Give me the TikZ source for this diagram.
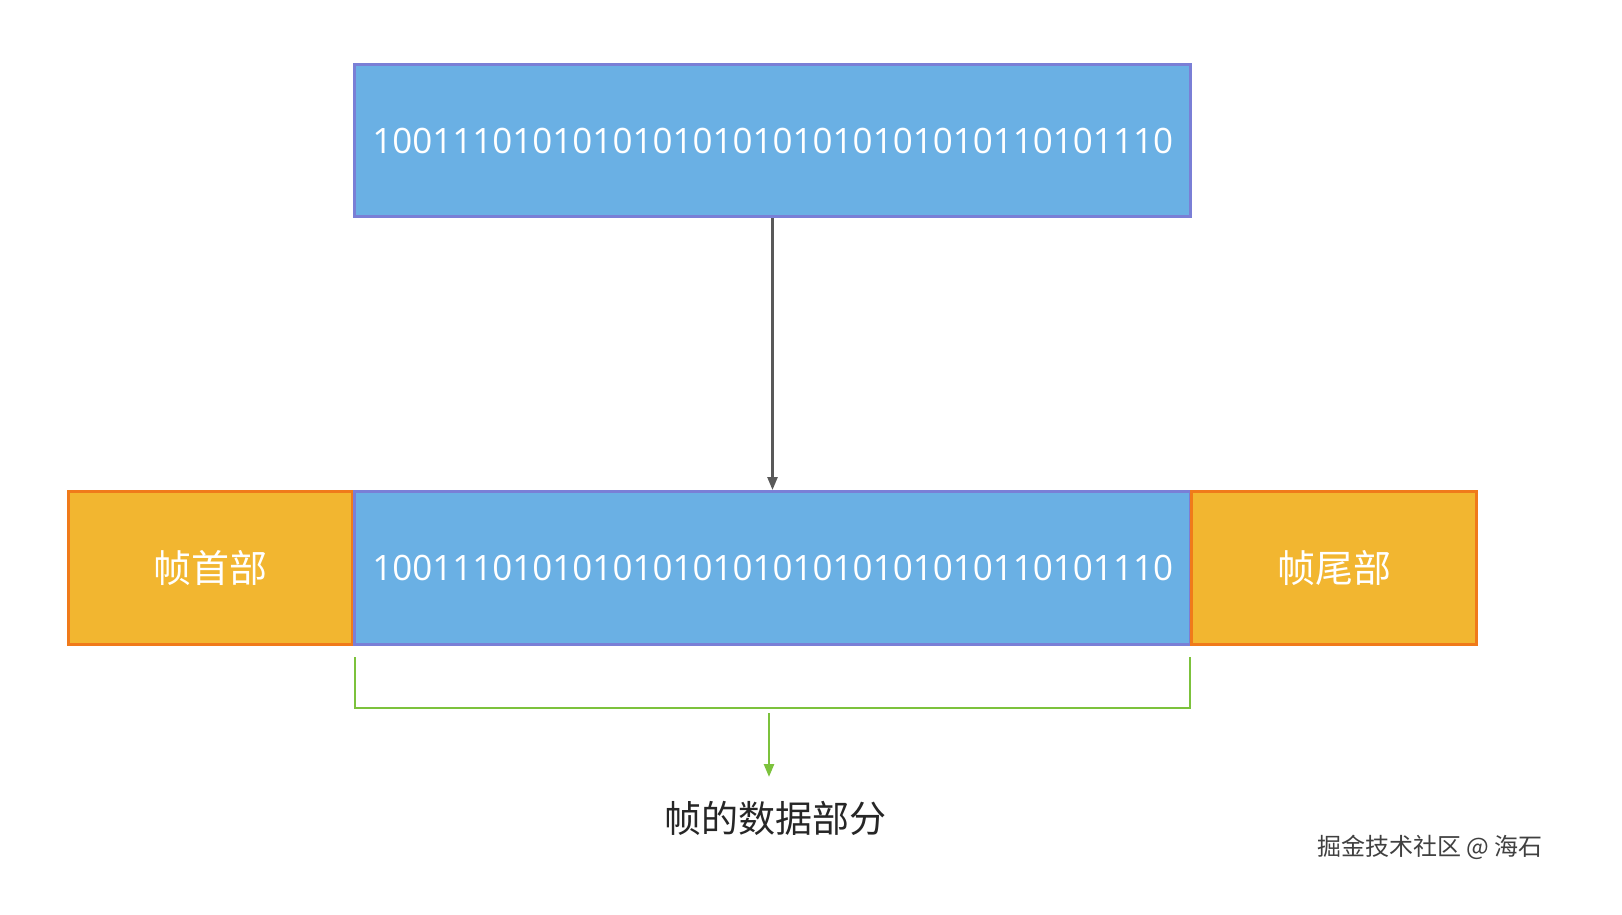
\documentclass[tikz,border=0pt]{standalone}
\usepackage{fontspec}
\setmainfont{Open Sans}
\newfontfamily\cjk{Noto Sans CJK SC}
\usetikzlibrary{arrows.meta}
\definecolor{bfill}{HTML}{6AB0E4}
\definecolor{bdraw}{HTML}{7A7FD6}
\definecolor{ofill}{HTML}{F2B630}
\definecolor{odraw}{HTML}{F07A1A}
\definecolor{grn}{HTML}{7CC23C}
\begin{document}
\begin{tikzpicture}[x=1pt,y=-1pt,
  bluebox/.style={draw=bdraw,fill=bfill,line width=3pt,text=white,font=\fontsize{35}{40}\selectfont,anchor=north west,inner sep=0pt},
  orbox/.style={draw=odraw,fill=ofill,line width=3pt,text=white,font=\cjk\fontsize{38}{42}\selectfont,anchor=north west,inner sep=0pt}]
\useasboundingbox[fill=white] (0,0) rectangle (1622,915);
\node[bluebox,minimum width=836pt,minimum height=152pt] (top) at (353,63) {1001110101010101010101010101010110101110};
\node[orbox,minimum width=284pt,minimum height=153pt] (head) at (67,490) {帧首部};
\node[bluebox,minimum width=836pt,minimum height=153pt] (data) at (353,490) {1001110101010101010101010101010110101110};
\node[orbox,minimum width=285pt,minimum height=153pt] (tail) at (1190,490) {帧尾部};
\draw[line width=2.5pt,color=black!65,-{Triangle[length=13pt,width=10pt]}] (top.south) -- (data.north);
\coordinate (bl) at (355,657);
\coordinate (br) at (1190,657);
\draw[grn,line width=2.5pt] (bl) -- (355,708) -- (1190,708) -- (br);
\coordinate (gs) at (769,713);
\node[font=\cjk\fontsize{37}{42}\selectfont,text=black!85] (lab) at (775,818) {帧的数据部分};
\draw[grn,line width=2.5pt,-{Triangle[length=13pt,width=10pt]}] (gs) -- (769,777);
\node[font=\cjk\fontsize{24}{28}\selectfont,text=black!75] (wm) at (1430,847) {掘金技术社区 @ 海石};
\end{tikzpicture}
\end{document}
